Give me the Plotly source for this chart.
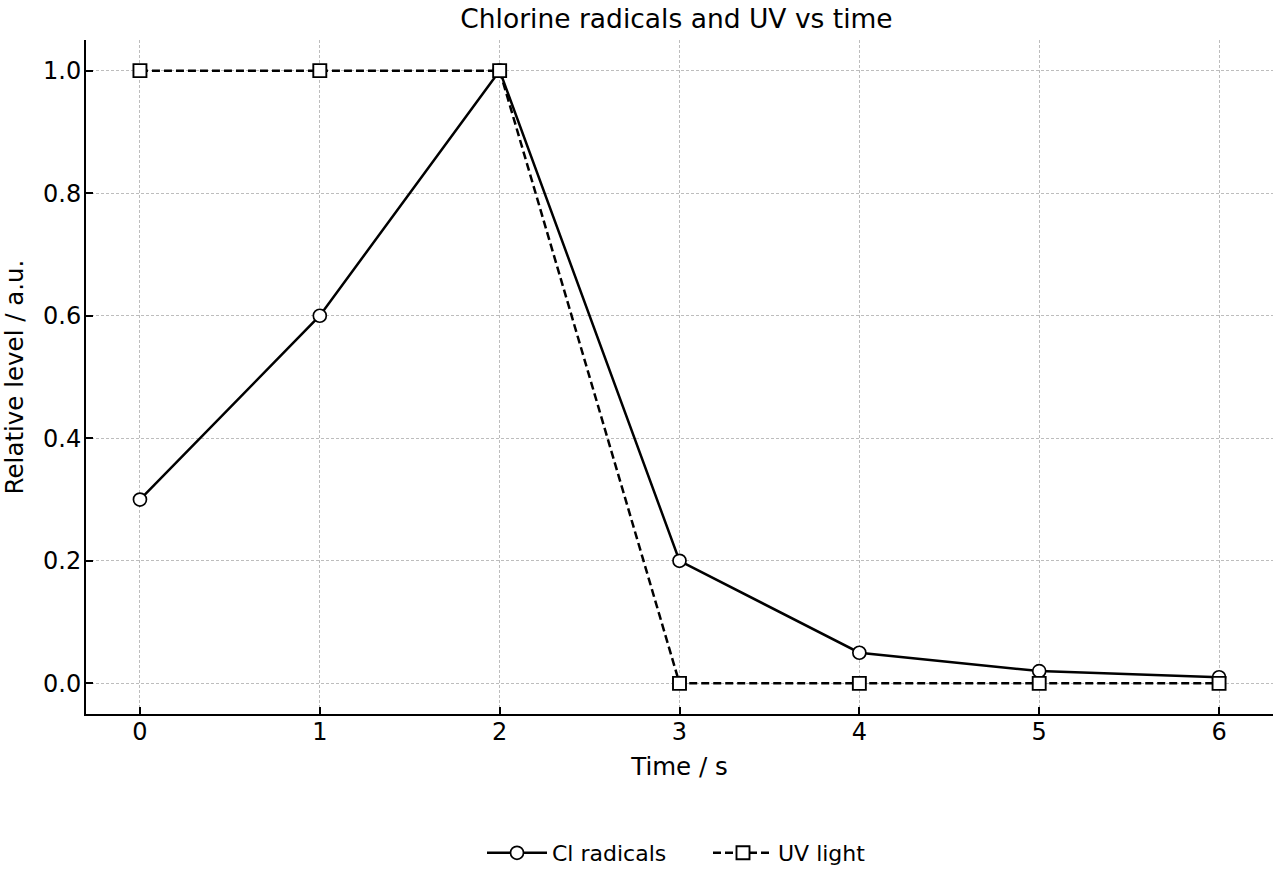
import plotly.graph_objects as go

time_s = [0, 1, 2, 3, 4, 5, 6]
cl_radicals = [0.3, 0.6, 1.0, 0.2, 0.05, 0.02, 0.01]
uv_light = [1.0, 1.0, 1.0, 0.0, 0.0, 0.0, 0.0]
x_ticks = [0, 1, 2, 3, 4, 5, 6]
y_ticks = [0.0, 0.2, 0.4, 0.6, 0.8, 1.0]

font = "DejaVu Sans, sans-serif"

fig = go.Figure()
fig.add_trace(go.Scatter(
    x=time_s, y=cl_radicals, name="Cl radicals", mode="lines+markers",
    line=dict(color="black", width=2.5),
    marker=dict(symbol="circle", size=13, color="white", line=dict(color="black", width=1.7)),
))
fig.add_trace(go.Scatter(
    x=time_s, y=uv_light, name="UV light", mode="lines+markers",
    line=dict(color="black", width=2.5, dash="8px,4px"),
    marker=dict(symbol="square", size=13, color="white", line=dict(color="black", width=1.9)),
))

axis_common = dict(
    showline=True, linecolor="black", linewidth=2, mirror=False,
    ticks="inside", ticklen=7, tickwidth=1.8, tickcolor="black",
    showgrid=True, gridcolor="#bdbdbd", gridwidth=0.8, griddash="3px,2px",
    zeroline=False, tickfont=dict(family=font, size=24, color="black"),
    automargin=False,
)

fig.update_layout(
    width=1280, height=880,
    margin=dict(l=86, r=7, t=40, b=166),
    paper_bgcolor="white", plot_bgcolor="white",
    font=dict(family=font, color="black"),
    title=dict(text="Chlorine radicals and UV vs time", x=0.5285, xanchor="center",
               yref="container", y=1 - 19 / 880, yanchor="middle",
               font=dict(family=font, size=26.5, color="black")),
    xaxis=dict(range=[-0.3, 6.3], tickvals=x_ticks, ticktext=[str(t) for t in x_ticks],
               ticklabelstandoff=-5,
               title=dict(text="Time / s", font=dict(family=font, size=24.5), standoff=13),
               **axis_common),
    yaxis=dict(range=[-0.05, 1.05], tickvals=y_ticks, ticktext=[f"{v:.1f}" for v in y_ticks],
               ticklabelstandoff=-2,
               title=dict(text="Relative level / a.u.", font=dict(family=font, size=24.5), standoff=12),
               **axis_common),
    legend=dict(orientation="h", x=(482 - 86) / 1187, xanchor="left",
                yref="container", y=1 - 853 / 880, yanchor="middle",
                font=dict(family=font, size=22), itemwidth=60,
                entrywidth=151, entrywidthmode="pixels",
                bgcolor="rgba(0,0,0,0)"),
    showlegend=True,
)

fig.write_html("out.html")
